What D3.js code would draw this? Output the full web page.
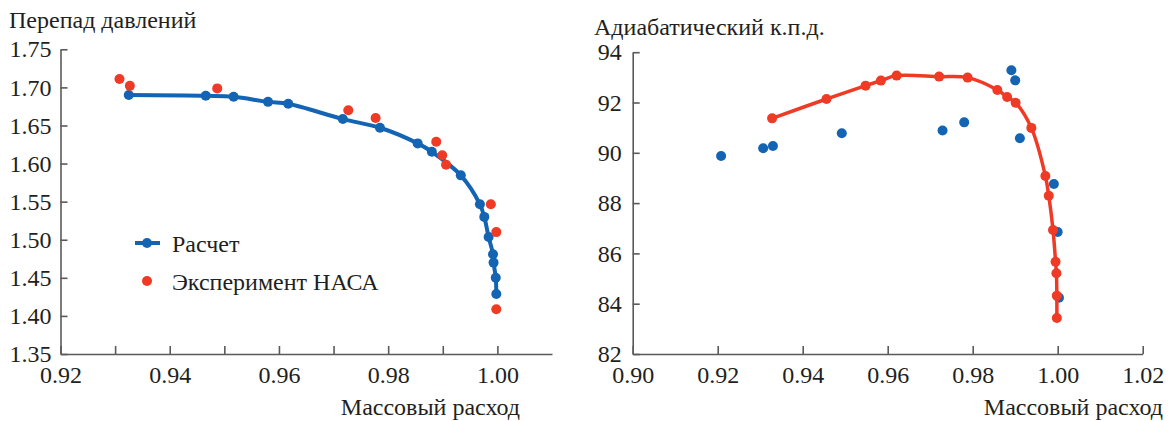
<!DOCTYPE html>
<html>
<head>
<meta charset="utf-8">
<script src="https://cdn.jsdelivr.net/npm/d3@7"></script>
<style>
  body { margin: 0; background: #fff; }
  svg text { font-family: "Liberation Serif", "DejaVu Serif", "Times New Roman", serif; }
  .axis path, .axis line { stroke: #5a5a5a; stroke-width: 1.6; }
  .axis text { font-size: 24px; fill: #231f20; }
  .title { font-size: 24px; fill: #231f20; }
</style>
</head>
<body>
<div id="chart"></div>
<script>
// Left panel: pressure ratio vs mass flow
const pressureCalc = [
  [0.9325, 1.690], [0.9466, 1.689], [0.9517, 1.6877], [0.958, 1.681], [0.9617, 1.6785],
  [0.9717, 1.6584], [0.9785, 1.647], [0.9854, 1.6265], [0.988, 1.6155], [0.9933, 1.5845],
  [0.9968, 1.5465], [0.9976, 1.530], [0.9984, 1.5035], [0.9992, 1.481], [0.9993, 1.470],
  [0.9997, 1.450], [0.9998, 1.4287]
];
const pressureExp = [
  [0.9308, 1.711], [0.9327, 1.702], [0.9487, 1.6987], [0.9727, 1.670], [0.9777, 1.6597],
  [0.9888, 1.6286], [0.9899, 1.6108], [0.9906, 1.5984], [0.9988, 1.5465], [0.9998, 1.510],
  [0.9998, 1.4087]
];

// Right panel: adiabatic efficiency vs mass flow
const efficiencyLine = [
  [0.9328, 91.37], [0.9456, 92.14], [0.9548, 92.67], [0.9584, 92.87], [0.9621, 93.07],
  [0.9721, 93.03], [0.9788, 92.99], [0.9858, 92.50], [0.9881, 92.22], [0.9901, 91.99],
  [0.9938, 90.99], [0.9971, 89.08], [0.9979, 88.29], [0.9989, 86.93], [0.9995, 85.67],
  [0.9997, 85.21], [0.9998, 84.32], [0.9998, 83.43]
];
const efficiencyPoints = [
  [0.9208, 89.87], [0.9307, 90.18], [0.933, 90.27], [0.9492, 90.78], [0.9729, 90.89],
  [0.978, 91.21], [0.9891, 93.28], [0.99, 92.88], [0.9911, 90.58], [0.9991, 88.76],
  [1.0000, 86.85], [1.0003, 84.24]
];

const leftXTicks = d3.range(92, 101).map(v => v / 100);
const leftYTicks = [1.35, 1.40, 1.45, 1.50, 1.55, 1.60, 1.65, 1.70, 1.75];
const rightXTicks = [0.90, 0.92, 0.94, 0.96, 0.98, 1.00, 1.02];
const rightYTicks = [82, 84, 86, 88, 90, 92, 94];

const legendLabels = ['Расчет', 'Эксперимент НАСА'];

const blue = '#1464b4';
const red = '#ef3a25';
const serif = '"Liberation Serif", "DejaVu Serif", serif';

const svg = d3.select('#chart').append('svg')
  .attr('width', 1171)
  .attr('height', 421)
  .attr('font-family', serif);

// Draw one panel's axes and titles, return its scales
function panel (cfg) {
  const x = d3.scaleLinear().domain(cfg.xDomain).range(cfg.xRange);
  const y = d3.scaleLinear().domain(cfg.yDomain).range(cfg.yRange);

  svg.append('g')
    .attr('class', 'axis')
    .attr('transform', 'translate(0,' + cfg.yRange[0] + ')')
    .call(d3.axisBottom(x)
      .tickValues(cfg.xTicks)
      .tickSizeInner(-8)
      .tickSizeOuter(0)
      .tickPadding(12)
      .tickFormat(cfg.xFormat))
    .attr('font-family', serif);

  svg.append('g')
    .attr('class', 'axis')
    .attr('transform', 'translate(' + cfg.xRange[0] + ',0)')
    .call(d3.axisLeft(y)
      .tickValues(cfg.yTicks)
      .tickSizeInner(-7)
      .tickSizeOuter(0)
      .tickPadding(cfg.yPad)
      .tickFormat(cfg.yFormat))
    .attr('font-family', serif);

  svg.selectAll('.axis .domain').attr('fill', 'none');

  svg.append('text')
    .attr('class', 'title')
    .attr('x', cfg.titleX)
    .attr('y', cfg.titleY)
    .text(cfg.title);

  svg.append('text')
    .attr('class', 'title')
    .attr('x', cfg.xTitleX)
    .attr('y', 415)
    .attr('text-anchor', 'end')
    .text('Массовый расход');

  return {x, y};
}

function drawLine (s, data, color, width) {
  svg.append('path')
    .datum(data)
    .attr('fill', 'none')
    .attr('stroke', color)
    .attr('stroke-width', width)
    .attr('stroke-linejoin', 'round')
    .attr('d', d3.line()
      .x(d => s.x(d[0]))
      .y(d => s.y(d[1]))
      .curve(d3.curveCatmullRom));
}

function drawDots (s, data, color) {
  svg.append('g')
    .selectAll('circle')
    .data(data)
    .enter().append('circle')
    .attr('cx', d => s.x(d[0]))
    .attr('cy', d => s.y(d[1]))
    .attr('r', 5)
    .attr('fill', color);
}

const left = panel({
  xDomain: [0.92, 1.01], xRange: [60.5, 552],
  yDomain: [1.35, 1.75], yRange: [354, 49.3],
  xTicks: leftXTicks, yTicks: leftYTicks,
  xFormat: d => Math.round(d * 100) % 2 === 0 ? d3.format('.2f')(d) : '',
  yFormat: d3.format('.2f'),
  yPad: 9,
  title: 'Перепад давлений', titleX: 9, titleY: 28,
  xTitleX: 520
});

drawLine(left, pressureCalc, blue, 4);
drawDots(left, pressureCalc, blue);
drawDots(left, pressureExp, red);

const right = panel({
  xDomain: [0.90, 1.02], xRange: [632.7, 1142.7],
  yDomain: [82, 94], yRange: [354, 52.2],
  xTicks: rightXTicks, yTicks: rightYTicks,
  xFormat: d3.format('.2f'),
  yFormat: d3.format('d'),
  yPad: 11,
  title: 'Адиабатический к.п.д.', titleX: 594, titleY: 35,
  xTitleX: 1163
});

drawDots(right, efficiencyPoints, blue);
drawLine(right, efficiencyLine, red, 3.5);
drawDots(right, efficiencyLine, red);

// Legend
const legend = svg.append('g').attr('class', 'legend');
legend.append('line')
  .attr('x1', 135).attr('x2', 160)
  .attr('y1', 243).attr('y2', 243)
  .attr('stroke', blue)
  .attr('stroke-width', 4);
legend.append('circle')
  .attr('cx', 147).attr('cy', 243).attr('r', 5)
  .attr('fill', blue);
legend.append('circle')
  .attr('cx', 147).attr('cy', 281).attr('r', 5)
  .attr('fill', red);
legend.selectAll('text')
  .data(legendLabels)
  .enter().append('text')
  .attr('class', 'title')
  .attr('x', 172)
  .attr('y', (d, i) => 252 + i * 38)
  .text(d => d);
</script>
</body>
</html>
